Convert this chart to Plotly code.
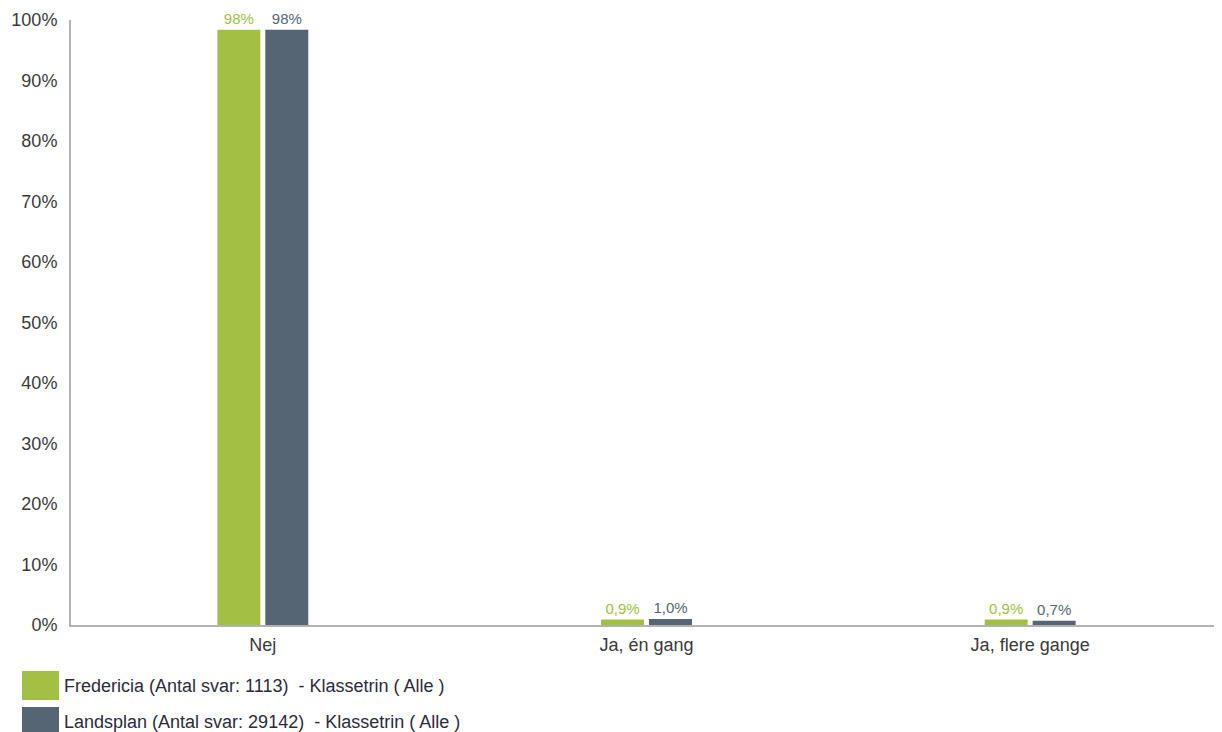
import plotly.graph_objects as go

categories = ["Nej", "Ja, én gang", "Ja, flere gange"]
series_names = [
    "Fredericia (Antal svar: 1113)  - Klassetrin ( Alle )",
    "Landsplan (Antal svar: 29142)  - Klassetrin ( Alle )",
]
fredericia = [98.4, 0.9, 0.9]
landsplan = [98.4, 1.0, 0.7]
fredericia_labels = ["98%", "0,9%", "0,9%"]
landsplan_labels = ["98%", "1,0%", "0,7%"]
y_ticks = [0, 10, 20, 30, 40, 50, 60, 70, 80, 90, 100]

colors = ["#a2c044", "#566574"]
FONT = "Liberation Sans, Arial, sans-serif"

# page body has an 8px margin, figure sized to fit the window
W, H = 1214, 724
ML, MT, MR, MB = 63, 12, 0, 107
PW, PH = W - ML - MR, H - MT - MB


def px_x(px):
    return (px - 8 - ML) / PW


def px_y(py):
    return (H - MB - (py - 8)) / PH


fig = go.Figure()
for name, vals, labels, col in [
    (series_names[0], fredericia, fredericia_labels, colors[0]),
    (series_names[1], landsplan, landsplan_labels, colors[1]),
]:
    fig.add_trace(go.Bar(
        x=categories, y=vals, name=name, marker=dict(color=col, line=dict(width=0)),
        text=labels, textposition="outside", cliponaxis=False,
        textfont=dict(color=col, size=15, family=FONT),
        hoverinfo="skip",
    ))

fig.update_layout(
    width=W, height=H,
    margin=dict(l=ML, r=MR, t=MT, b=MB),
    paper_bgcolor="white", plot_bgcolor="white",
    barmode="group", bargap=0.75, bargroupgap=0.104,
    showlegend=False,
    font=dict(family=FONT, size=18, color="#3a3a3a"),
    xaxis=dict(
        type="category", range=[-0.5, 2.5], showgrid=False, zeroline=False,
        showline=True, linecolor="rgba(0,0,0,0.3)", linewidth=2,
        ticks="", tickfont=dict(size=18, color="#3a3a3a"), fixedrange=True,
        ticklabelstandoff=2,
    ),
    yaxis=dict(
        range=[0, 100], tickvals=y_ticks, ticktext=[f"{v}%" for v in y_ticks],
        showgrid=False, zeroline=False, showline=True,
        linecolor="rgba(0,0,0,0.3)", linewidth=2,
        ticks="", tickfont=dict(size=18, color="#3a3a3a"), ticklabelstandoff=8,
        fixedrange=True,
    ),
)

# custom legend (large swatches)
legend_rows = [(671, 700), (707, 737)]
for (top, bottom), name, col in zip(legend_rows, series_names, colors):
    fig.add_shape(type="rect", xref="paper", yref="paper",
                  x0=px_x(22), x1=px_x(59), y0=px_y(bottom), y1=px_y(top),
                  fillcolor=col, line=dict(width=0))
    fig.add_annotation(xref="paper", yref="paper", x=px_x(62), y=px_y((top + bottom) / 2),
                       text=name, showarrow=False, xanchor="left", yanchor="middle",
                       font=dict(size=18, color="#2b2b3b", family=FONT))

fig.write_html("out.html")
